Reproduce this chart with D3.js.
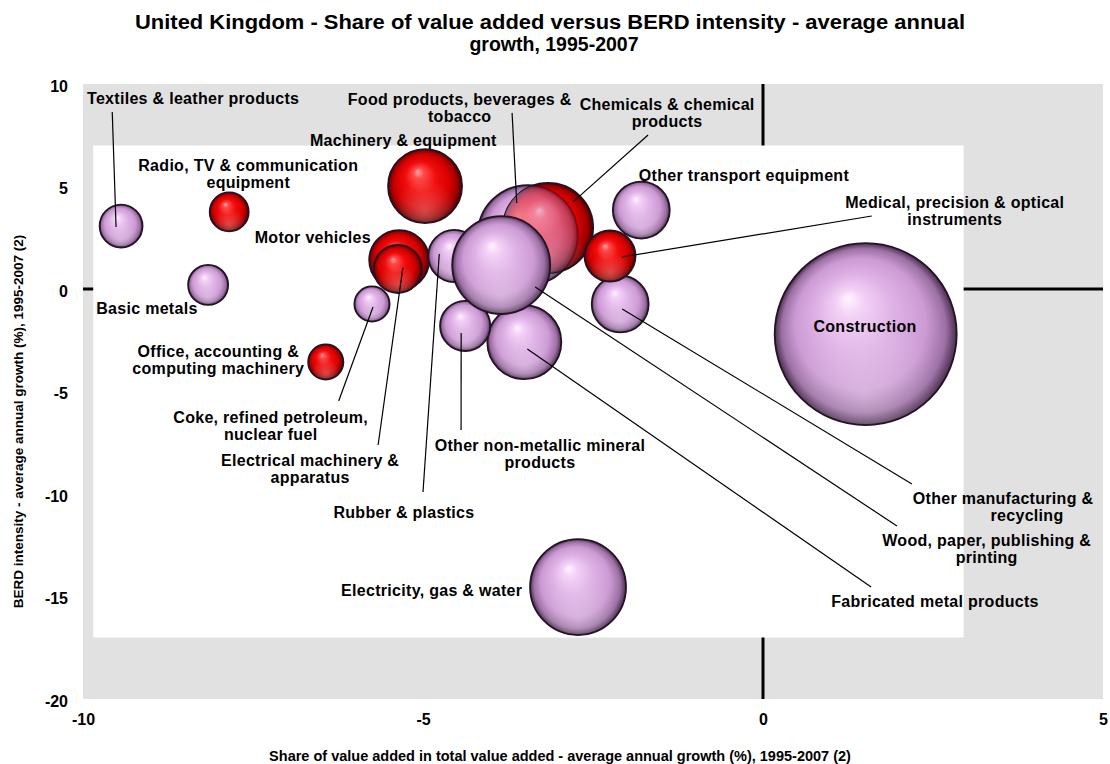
<!DOCTYPE html>
<html>
<head>
<meta charset="utf-8">
<script src="https://cdn.jsdelivr.net/npm/d3@7"></script>
<style>
  html, body { margin: 0; padding: 0; background: #fff; }
  svg text { font-family: "Liberation Sans", Arial, sans-serif; font-weight: bold; fill: #000; }
</style>
</head>
<body>
<svg id="chart" width="1110" height="764"></svg>
<script>
// Sectors, listed in the order their bubbles are painted (later ones sit on top)
const sectors = [
  "Construction",
  "Electricity, gas & water",
  "Food products, beverages & tobacco",
  "Chemicals & chemical products",
  "Machinery & equipment",
  "Motor vehicles",
  "Electrical machinery & apparatus",
  "Rubber & plastics",
  "Fabricated metal products",
  "Other non-metallic mineral products",
  "Wood, paper, publishing & printing",
  "Other manufacturing & recycling",
  "Medical, precision & optical instruments",
  "Other transport equipment",
  "Textiles & leather products",
  "Radio, TV & communication equipment",
  "Basic metals",
  "Coke, refined petroleum, nuclear fuel",
  "Office, accounting & computing machinery"
];
// Share of value added in total value added - average annual growth (%), 1995-2007
const vaShareGrowth = [1.51, -2.72, -3.46, -3.16, -4.97, -5.35, -5.37, -4.54, -3.51, -4.38,
                       -3.85, -2.10, -2.25, -1.79, -9.44, -7.85, -8.16, -5.75, -6.43];
// BERD intensity - average annual growth (%), 1995-2007
const berdGrowth = [-2.20, -14.54, 2.63, 2.98, 5.02, 1.41, 0.98, 1.61, -2.59, -1.80,
                    1.17, -0.73, 1.61, 3.85, 3.07, 3.76, 0.20, -0.73, -3.56];
// Bubble size: share of total value added (%)
const vaShare = [8.28, 2.30, 2.50, 2.03, 1.37, 0.90, 0.58, 0.68, 1.37, 0.63,
                 2.40, 0.81, 0.65, 0.81, 0.46, 0.38, 0.40, 0.31, 0.31];
// Technology group: "high" = high / medium-high technology manufacturing
const techGroup = ["other", "other", "other", "high", "high", "high", "high", "other", "other", "other",
                   "other", "other", "high", "other", "other", "high", "other", "other", "high"];

const xTicks = [-10, -5, 0, 5];
const yTicks = [10, 5, 0, -5, -10, -15, -20];

const chartTitle = ["United Kingdom - Share of value added versus BERD intensity - average annual",
                    "growth, 1995-2007"];
const xTitle = "Share of value added in total value added - average annual growth (%), 1995-2007 (2)";
const yTitle = "BERD intensity - average annual growth (%), 1995-2007 (2)";

// Label placement (axis units) and leader lines
const labelLayout = [
  { sector: "Textiles & leather products", lines: ["Textiles & leather products"], at: [-8.38, 9.32], from: [-9.57, 8.63], tip: [-5, 1] },
  { sector: "Radio, TV & communication equipment", lines: ["Radio, TV & communication", "equipment"], at: [-7.57, 6.02] },
  { sector: "Machinery & equipment", lines: ["Machinery & equipment"], at: [-5.29, 7.27] },
  { sector: "Food products, beverages & tobacco", lines: ["Food products, beverages &", "tobacco"], at: [-4.46, 9.27], from: [-3.69, 8.59], tip: [-11, -32] },
  { sector: "Chemicals & chemical products", lines: ["Chemicals & chemical", "products"], at: [-1.41, 9.02], from: [-1.69, 7.51], tip: [25, -26] },
  { sector: "Other transport equipment", lines: ["Other transport equipment"], at: [-0.28, 5.56] },
  { sector: "Medical, precision & optical instruments", lines: ["Medical, precision & optical", "instruments"], at: [2.82, 4.22], from: [1.60, 3.56], tip: [12, 1] },
  { sector: "Motor vehicles", lines: ["Motor vehicles"], at: [-6.62, 2.51] },
  { sector: "Basic metals", lines: ["Basic metals"], at: [-9.06, -0.93] },
  { sector: "Office, accounting & computing machinery", lines: ["Office, accounting &", "computing machinery"], at: [-8.01, -3.02] },
  { sector: "Coke, refined petroleum, nuclear fuel", lines: ["Coke, refined petroleum,", "nuclear fuel"], at: [-7.24, -6.24], from: [-6.24, -5.46], tip: [1, 3] },
  { sector: "Electrical machinery & apparatus", lines: ["Electrical machinery &", "apparatus"], at: [-6.66, -8.34], from: [-5.66, -7.61], tip: [5, -1] },
  { sector: "Rubber & plastics", lines: ["Rubber & plastics"], at: [-5.28, -10.88], from: [-5.0, -9.90], tip: [-15, -2] },
  { sector: "Other non-metallic mineral products", lines: ["Other non-metallic mineral", "products"], at: [-3.28, -7.61], from: [-4.44, -6.88], tip: [-4, 7] },
  { sector: "Other manufacturing & recycling", lines: ["Other manufacturing &", "recycling"], at: [3.53, -10.20], shift: [0, 24], from: [2.19, -9.51], tip: [2, 5] },
  { sector: "Wood, paper, publishing & printing", lines: ["Wood, paper, publishing &", "printing"], at: [3.29, -12.24], from: [1.97, -11.56], tip: [34, 22] },
  { sector: "Fabricated metal products", lines: ["Fabricated metal products"], at: [2.53, -15.22], from: [1.59, -14.54], tip: [3, 7] },
  { sector: "Electricity, gas & water", lines: ["Electricity, gas & water"], at: [-3.54, -14.68], anchor: "end" },
  { sector: "Construction", lines: ["Construction"], at: [1.50, -1.80] }
];

// Where two bubbles overlap, the lower one shows through the upper one
const showThrough = { lower: "Food products, beverages & tobacco", upper: "Chemicals & chemical products", opacity: 0.5 };

// Inner white panel of the plot (axis units)
const panel = { x0: -9.85, x1: 2.95, y0: -17, y1: 7 };

const plot = { left: 83, right: 1103, top: 84, bottom: 699 };

const svg = d3.select("#chart");
const x = d3.scaleLinear().domain([-10, 5]).range([plot.left, plot.right]);
const y = d3.scaleLinear().domain([-20, 10]).range([plot.bottom, plot.top]);
const r = d3.scaleSqrt().domain([0, 10]).range([0, 100]);

const data = sectors.map((s, i) => ({
  sector: s, vx: vaShareGrowth[i], vy: berdGrowth[i], size: vaShare[i], group: techGroup[i]
}));
const bySector = new Map(data.map(d => [d.sector, d]));

// Sphere shading
const defs = svg.append("defs");
const palettes = {
  other: [["0%", "#fff6ff"], ["14%", "#f4d3f7"], ["42%", "#dfb2e6"], ["72%", "#cc9ad4"], ["90%", "#9c70a4"], ["100%", "#4a2d4f"]],
  high:  [["0%", "#ffb0b0"], ["14%", "#ff4a4a"], ["42%", "#f00c0c"], ["72%", "#d80000"], ["90%", "#9a0000"], ["100%", "#480000"]]
};
Object.entries(palettes).forEach(([key, stops]) => {
  const g = defs.append("radialGradient").attr("id", "ball-" + key)
    .attr("cx", "50%").attr("cy", "50%").attr("r", "50%")
    .attr("fx", "40%").attr("fy", "30%");
  stops.forEach(([o, c]) => g.append("stop").attr("offset", o).attr("stop-color", c));
});
// soft lower reflection
const refl = defs.append("radialGradient").attr("id", "reflect")
  .attr("cx", "50%").attr("cy", "85%").attr("r", "45%");
refl.append("stop").attr("offset", "0%").attr("stop-color", "#fff").attr("stop-opacity", 0.28);
refl.append("stop").attr("offset", "100%").attr("stop-color", "#fff").attr("stop-opacity", 0);

// Plot background
svg.append("rect")
  .attr("x", plot.left).attr("y", plot.top)
  .attr("width", plot.right - plot.left).attr("height", plot.bottom - plot.top)
  .attr("fill", "#e1e1e1");

// Zero lines
svg.append("line")
  .attr("x1", x(0)).attr("x2", x(0)).attr("y1", plot.top).attr("y2", plot.bottom)
  .attr("stroke", "#000").attr("stroke-width", 3);
svg.append("line")
  .attr("x1", plot.left).attr("x2", plot.right).attr("y1", y(0)).attr("y2", y(0))
  .attr("stroke", "#000").attr("stroke-width", 3);

// White panel
svg.append("rect")
  .attr("x", x(panel.x0)).attr("y", y(panel.y1))
  .attr("width", x(panel.x1) - x(panel.x0)).attr("height", y(panel.y0) - y(panel.y1))
  .attr("fill", "#fff");

// Axes (labels only)
const yAxis = d3.axisLeft(y).tickValues(yTicks).tickSize(0).tickPadding(15).tickFormat(d3.format("d"));
const xAxis = d3.axisBottom(x).tickValues(xTicks).tickSize(0).tickPadding(15).tickFormat(d3.format("d"));
const gy = svg.append("g").attr("transform", `translate(${plot.left},2)`).call(yAxis);
const gx = svg.append("g").attr("transform", `translate(0,${plot.bottom})`).call(xAxis);
[gx, gy].forEach(g => {
  g.select(".domain").remove();
  g.selectAll("text").style("font-family", '"Liberation Sans", Arial, sans-serif')
    .style("font-weight", "bold").style("font-size", "16px").attr("fill", "#000");
});
gx.selectAll("text").text(d => d < 0 ? "-" + Math.abs(d) : d);
gy.selectAll("text").text(d => d < 0 ? "-" + Math.abs(d) : d);

// Bubbles
const bubbles = svg.append("g").selectAll("g.bubble").data(data).join("g").attr("class", "bubble");
bubbles.append("circle")
  .attr("cx", d => x(d.vx)).attr("cy", d => y(d.vy)).attr("r", d => r(d.size))
  .attr("fill", d => `url(#ball-${d.group})`)
  .attr("stroke", "#231323").attr("stroke-width", 1.8);
bubbles.append("circle")
  .attr("cx", d => x(d.vx)).attr("cy", d => y(d.vy)).attr("r", d => r(d.size) - 1)
  .attr("fill", "url(#reflect)");

// Lower bubble showing through the upper one
{
  const lo = bySector.get(showThrough.lower), up = bySector.get(showThrough.upper);
  defs.append("clipPath").attr("id", "clip-through")
    .append("circle").attr("cx", x(up.vx)).attr("cy", y(up.vy)).attr("r", r(up.size));
  bubbles.filter(d => d === up).append("circle")
    .attr("cx", x(lo.vx)).attr("cy", y(lo.vy)).attr("r", r(lo.size))
    .attr("fill", `url(#ball-${lo.group})`)
    .attr("stroke", "#231323").attr("stroke-width", 1.8)
    .attr("opacity", showThrough.opacity)
    .attr("clip-path", "url(#clip-through)");
}

// Labels and leader lines
const fs = 16, lh = 17;
const lab = svg.append("g");
labelLayout.forEach(l => {
  const d = bySector.get(l.sector);
  if (l.from) {
    lab.append("line")
      .attr("x1", x(l.from[0])).attr("y1", y(l.from[1]))
      .attr("x2", x(d.vx) + l.tip[0]).attr("y2", y(d.vy) + l.tip[1])
      .attr("stroke", "#000").attr("stroke-width", 1.2);
  }
  const t = lab.append("text")
    .attr("text-anchor", l.anchor || "middle")
    .style("font-size", fs + "px").style("letter-spacing", "0.3px");
  l.lines.forEach((line, i) => {
    t.append("tspan")
      .attr("x", x(l.at[0]) + (l.shift ? l.shift[i] : 0))
      .attr("y", y(l.at[1]) + i * lh + fs * 0.36)
      .text(line);
  });
});

// Titles
const title = svg.append("text").attr("text-anchor", "middle").style("font-size", "19.5px");
title.append("tspan").attr("x", 550).attr("y", 29)
  .attr("textLength", 830).attr("lengthAdjust", "spacingAndGlyphs").text(chartTitle[0]);
title.append("tspan").attr("x", 554).attr("y", 51).text(chartTitle[1]);

svg.append("text").attr("text-anchor", "middle").style("font-size", "14.5px")
  .attr("x", 560).attr("y", 761).text(xTitle);

svg.append("text").attr("text-anchor", "middle").style("font-size", "13.5px")
  .attr("transform", `translate(23,${(plot.top + plot.bottom) / 2 + 30}) rotate(-90)`).text(yTitle);
</script>
</body>
</html>
